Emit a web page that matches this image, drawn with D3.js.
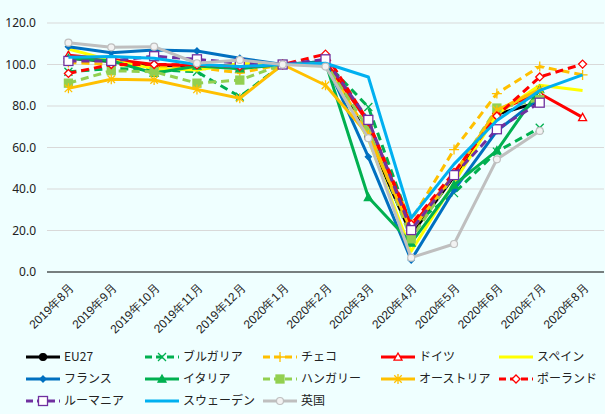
<!DOCTYPE html>
<html><head><meta charset="utf-8">
<script src="https://cdn.jsdelivr.net/npm/d3@7"></script>
<style>
html,body{margin:0;padding:0;background:#EFFFFF;}
svg{display:block;font-family:"Noto Sans CJK JP","Noto Sans",sans-serif;}
</style></head>
<body>
<svg id="chart" width="605" height="414"></svg>
<script>
const months = ["2019年8月","2019年9月","2019年10月","2019年11月","2019年12月","2020年1月","2020年2月","2020年3月","2020年4月","2020年5月","2020年6月","2020年7月","2020年8月"];
const yTicks = [0,20,40,60,80,100,120];
const seriesNames = ["EU27","ブルガリア","チェコ","ドイツ","スペイン","フランス","イタリア","ハンガリー","オーストリア","ポーランド","ルーマニア","スウェーデン","英国"];
const eu27     = [103, 101.5, 99.5, 99.3, 99.5, 100, 100.8, 65, 18, 46, 76, 82, null];
const bulgaria = [96.5, 98, 97.5, 96.5, 84.5, 100, 101, 79.5, 22, 38, 58, 69.5, null];
const czech    = [101, 100, 99, 98.5, 96, 100, 100.5, 67, 25, 59, 86, 99, 95];
const germany  = [104.5, 102.5, 100, 99.5, 99, 100, 101.5, 72, 22, 46.5, 78, 86, 74.5];
const spain    = [107.5, 102, 98, 97.3, 100.5, 100, 100, 64, 10, 43, 76, 90, 87.5];
const france   = [108.6, 105.7, 107, 106.5, 103, 100, 101.5, 55.5, 5.8, 39.5, 68, 84, null];
const italy    = [103, 101.8, 95.8, 99.3, 98, 100, 101, 36, 14, 42, 58.5, 88, null];
const hungary  = [91, 97, 96.5, 91, 92.5, 100, 100.5, 69, 16, 47, 79, 83, null];
const austria  = [88.5, 92.9, 92.5, 88, 83.7, 100, 90, 66, 20, 47, 78, 88, null];
const poland   = [95.7, 100, 100, 99.8, 99, 100, 105, 72.5, 23, 48, 75.2, 94, 100.2];
const romania  = [101.7, 101.7, 104, 102.5, 100.6, 100, 102.5, 73.3, 20.2, 46.7, 68.8, 81.6, null];
const sweden   = [103.5, 103.8, 103, 100, 99, 100, 100.6, 94, 26, 52, 73, 87.5, 95];
const uk       = [110.5, 108.3, 108.6, 100.6, 102.2, 100, 99, 64.5, 6.9, 13.5, 54.3, 68, null];
const seriesValues = [eu27,bulgaria,czech,germany,spain,france,italy,hungary,austria,poland,romania,sweden,uk];

const styles = [
  {color:"#000000", dash:null, marker:"circle", fill:"#000000", size:3.5},
  {color:"#00B050", dash:"8,5", marker:"x", fill:"none", size:4},
  {color:"#FFC000", dash:"8,5", marker:"plus", fill:"none", size:5},
  {color:"#FF0000", dash:null, marker:"triangle", fill:"#FFFFFF", size:4},
  {color:"#FFFF00", dash:null, marker:null},
  {color:"#0070C0", dash:null, marker:"diamond", fill:"#0070C0", size:3},
  {color:"#00B050", dash:null, marker:"triangle", fill:"#00B050", size:4},
  {color:"#92D050", dash:"8,5", marker:"square", fill:"#92D050", size:4},
  {color:"#FFC000", dash:null, marker:"asterisk", fill:"none", size:5},
  {color:"#FF0000", dash:"8,5", marker:"diamond", fill:"#FFFFFF", size:4},
  {color:"#7030A0", dash:"8,5", marker:"square", fill:"#FFFFFF", size:4.5},
  {color:"#00B0F0", dash:null, marker:null},
  {color:"#BFBFBF", dash:null, marker:"circle", fill:"#F2F2F2", size:3.5}
];

const svg = d3.select("#chart");
const pLeft = 47, pRight = 604, pTop = 23, pBottom = 272;
const x = d3.scalePoint().domain(months).range([pLeft, pRight]).padding(0.5);
const y = d3.scaleLinear().domain([0,120]).range([pBottom, pTop]);

// gridlines
svg.append("g").selectAll("line").data(yTicks.filter(t=>t>0)).join("line")
  .attr("x1", pLeft).attr("x2", pRight)
  .attr("y1", d=>y(d)).attr("y2", d=>y(d))
  .attr("stroke", "#D9D9D9").attr("stroke-width", 1);

// y axis labels
const yAxis = svg.append("g").attr("transform", `translate(${pLeft},0)`)
  .call(d3.axisLeft(y).tickValues(yTicks).tickFormat(d3.format(".1f")).tickSize(0).tickPadding(11));
yAxis.select(".domain").remove();
yAxis.selectAll("text").attr("font-size", 12).attr("fill", "#222").attr("font-family", "'Noto Sans','Noto Sans CJK JP',sans-serif");

// x axis
const xAxis = svg.append("g").attr("transform", `translate(0,${pBottom})`)
  .call(d3.axisBottom(x).tickSize(0).tickPadding(0));
xAxis.select(".domain").attr("stroke", "#000").attr("stroke-width", 1.2).attr("d", `M${pLeft},0H${pRight}`);
xAxis.selectAll("text")
  .attr("font-size", 12).attr("fill", "#222")
  .attr("text-anchor", "end")
  .attr("dy", null).attr("y", 0)
  .attr("transform", "translate(6,17) rotate(-45)");

function drawMarker(g, type, cx, cy, st, s) {
  const c = st.color;
  if (type === "circle") {
    g.append("circle").attr("cx", cx).attr("cy", cy).attr("r", s).attr("fill", st.fill).attr("stroke", c).attr("stroke-width", 1.2);
  } else if (type === "square") {
    g.append("rect").attr("x", cx-s).attr("y", cy-s).attr("width", 2*s).attr("height", 2*s).attr("fill", st.fill).attr("stroke", c).attr("stroke-width", 1.3);
  } else if (type === "triangle") {
    g.append("path").attr("d", `M${cx},${cy-s}L${cx+s},${cy+s*0.8}L${cx-s},${cy+s*0.8}Z`).attr("fill", st.fill).attr("stroke", c).attr("stroke-width", 1.3);
  } else if (type === "diamond") {
    g.append("path").attr("d", `M${cx},${cy-s}L${cx+s},${cy}L${cx},${cy+s}L${cx-s},${cy}Z`).attr("fill", st.fill).attr("stroke", c).attr("stroke-width", 1.3);
  } else if (type === "x") {
    g.append("path").attr("d", `M${cx-s},${cy-s}L${cx+s},${cy+s}M${cx-s},${cy+s}L${cx+s},${cy-s}`).attr("stroke", c).attr("stroke-width", 1.3).attr("fill", "none");
  } else if (type === "plus") {
    g.append("path").attr("d", `M${cx-s},${cy}L${cx+s},${cy}M${cx},${cy-s}L${cx},${cy+s}`).attr("stroke", c).attr("stroke-width", 1.3).attr("fill", "none");
  } else if (type === "asterisk") {
    const d = s*0.75;
    g.append("path").attr("d", `M${cx},${cy-s}L${cx},${cy+s}M${cx-d},${cy-d}L${cx+d},${cy+d}M${cx-d},${cy+d}L${cx+d},${cy-d}`).attr("stroke", c).attr("stroke-width", 1.3).attr("fill", "none");
  }
}

const line = d3.line().defined(d => d.v != null).x(d => x(d.m)).y(d => y(d.v));
const plot = svg.append("g");
seriesValues.forEach((vals, i) => {
  const st = styles[i];
  const pts = months.map((m, j) => ({m, v: vals[j]}));
  const g = plot.append("g");
  g.append("path").datum(pts).attr("d", line)
    .attr("fill", "none").attr("stroke", st.color).attr("stroke-width", 3)
    .attr("stroke-dasharray", st.dash).attr("stroke-linejoin", "round");
  if (st.marker) {
    pts.filter(p => p.v != null).forEach(p => drawMarker(g, st.marker, x(p.m), y(p.v), st, st.size));
  }
});

// legend
const legCols = [26, 145, 263, 381, 499];
const legRows = [357, 379, 401];
const leg = svg.append("g");
seriesNames.forEach((name, i) => {
  const st = styles[i];
  const lx = legCols[i % 5], ly = legRows[Math.floor(i / 5)];
  const g = leg.append("g");
  g.append("line").attr("x1", lx).attr("x2", lx + 34).attr("y1", ly).attr("y2", ly)
    .attr("stroke", st.color).attr("stroke-width", 3).attr("stroke-dasharray", st.dash ? "7,4" : null);
  if (st.marker) drawMarker(g, st.marker, lx + 17, ly, st, st.size);
  g.append("text").attr("x", lx + 38).attr("y", ly).attr("dy", "0.35em")
    .attr("font-size", 12).attr("fill", "#222").text(name);
});
</script>
</body></html>
